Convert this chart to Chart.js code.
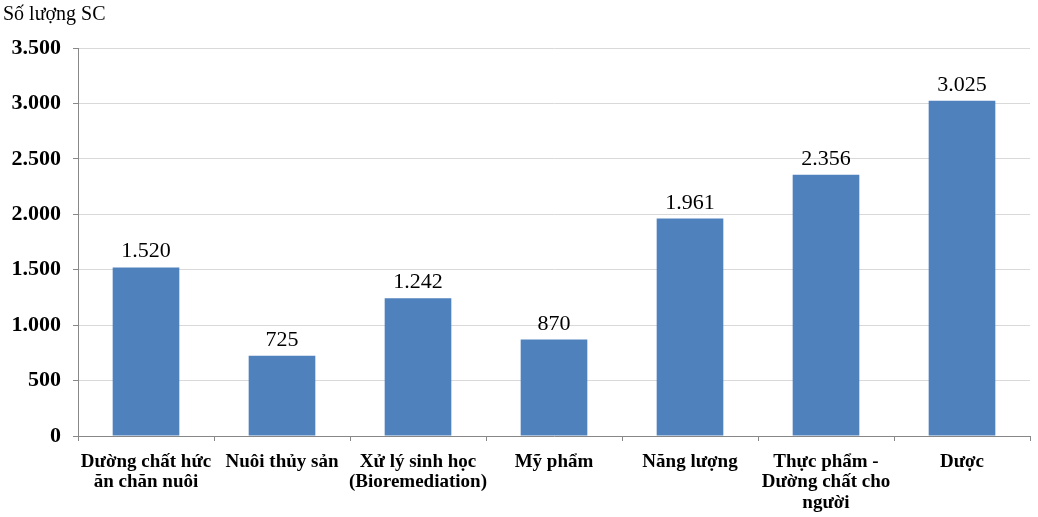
<!DOCTYPE html>
<html>
<head>
<meta charset="utf-8">
<script src="https://cdn.jsdelivr.net/npm/chart.js@4/dist/chart.umd.min.js"></script>
<style>
  html, body { margin: 0; padding: 0; background: #fff; }
  #wrap { width: 1038px; height: 517px; }
</style>
</head>
<body>
<div id="wrap"><canvas id="grafico"></canvas></div>
<script>
// categories and values
const nganh = [
  ["Dường chất hức", "ăn chăn nuôi"],
  "Nuôi thủy sản",
  ["Xử lý sinh học", "(Bioremediation)"],
  "Mỹ phẩm",
  "Năng lượng",
  ["Thực phẩm -", "Dường chất cho", "người"],
  "Dược"
];
const soLuong = [1520, 725, 1242, 870, 1961, 2356, 3025];
const yTicks = [0, 500, 1000, 1500, 2000, 2500, 3000, 3500];

const serif = "'Liberation Serif', 'Times New Roman', serif";

function fmt(v) {
  return String(v).replace(/\B(?=(\d{3})+(?!\d))/g, ".");
}

// value labels on top of each bar
const nhanGiaTri = {
  id: 'nhanGiaTri',
  afterDatasetsDraw(chart) {
    const ctx = chart.ctx;
    const meta = chart.getDatasetMeta(0);
    ctx.save();
    ctx.font = "22px " + serif;
    ctx.fillStyle = "#000";
    ctx.textAlign = "center";
    ctx.textBaseline = "alphabetic";
    meta.data.forEach((bar, i) => {
      ctx.fillText(fmt(soLuong[i]), bar.x, bar.y - 10);
    });
    ctx.restore();
  }
};

const graph = document.getElementById('grafico');
const myChart = new Chart(graph, {
  type: 'bar',
  data: {
    labels: nganh,
    datasets: [{
      data: soLuong,
      backgroundColor: '#4F81BD',
      borderWidth: 0,
      barPercentage: 0.49,
      categoryPercentage: 1
    }]
  },
  plugins: [nhanGiaTri],
  options: {
    responsive: true,
    maintainAspectRatio: false,
    animation: false,
    layout: { padding: { left: 3, right: 8, top: 0, bottom: 0 } },
    plugins: {
      legend: { display: false },
      tooltip: { enabled: false },
      title: {
        display: true,
        text: 'Số lượng SC',
        align: 'start',
        color: '#000',
        font: { family: serif, size: 20, weight: 'normal' },
        padding: { top: 3, bottom: 21 }
      }
    },
    scales: {
      x: {
        grid: {
          display: true,
          offset: true,
          drawOnChartArea: false,
          tickLength: 5,
          color: '#888'
        },
        border: { color: '#888' },
        ticks: {
          color: '#000',
          font: { family: serif, size: 19, weight: 'bold', lineHeight: 1.07 },
          padding: 11,
          maxRotation: 0,
          autoSkip: false
        },
        afterFit(scale) { scale.height = 81; }
      },
      y: {
        min: 0,
        max: 3500,
        afterBuildTicks(scale) {
          scale.ticks = yTicks.map(v => ({ value: v }));
        },
        grid: {
          color: '#d9d9d9',
          tickColor: '#888',
          tickLength: 5
        },
        border: { color: '#888' },
        ticks: {
          color: '#000',
          font: { family: serif, size: 22, weight: 'bold' },
          padding: 12,
          callback: v => fmt(v)
        },
        afterFit(scale) { scale.width = 75; }
      }
    }
  }
});
</script>
</body>
</html>
